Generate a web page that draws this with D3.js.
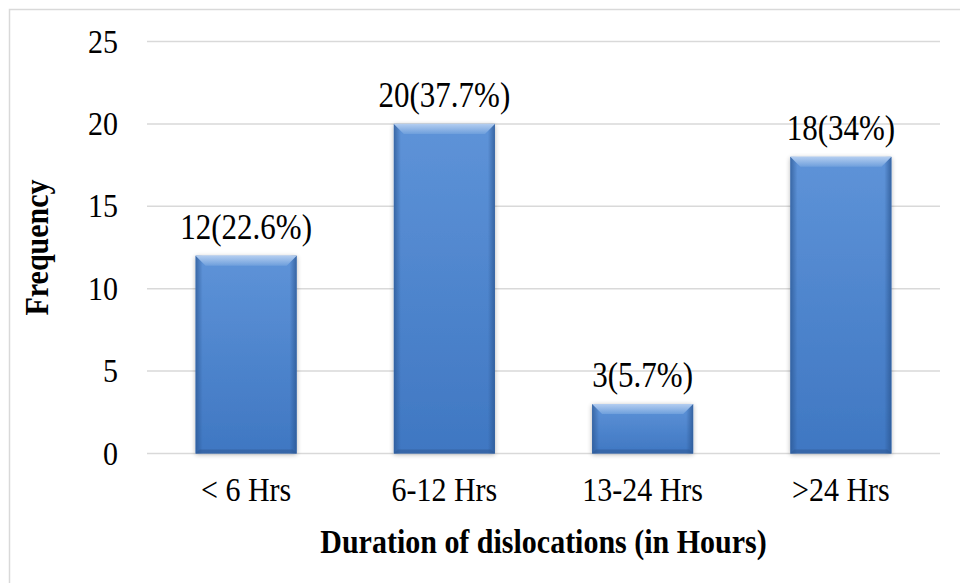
<!DOCTYPE html>
<html><head><meta charset="utf-8">
<script src="https://cdn.jsdelivr.net/npm/d3@7"></script>
<style>html,body{margin:0;padding:0;background:#fff;}svg{display:block;}</style>
</head><body>
<script>
const categories = ["< 6 Hrs", "6-12 Hrs", "13-24 Hrs", ">24 Hrs"];
const frequencies = [12, 20, 3, 18];
const barLabels = ["12(22.6%)", "20(37.7%)", "3(5.7%)", "18(34%)"];
const yTicks = [0, 5, 10, 15, 20, 25];
const xTitle = "Duration of dislocations (in Hours)";
const yTitle = "Frequency";

const W = 960, H = 583;
const plot = {left: 147, right: 940, top: 41.5, bottom: 453.5};
const font = "'Liberation Serif','Times New Roman',serif";
const kAxis = 1.1, kBar = 1.15, kTitle = 1.1;

const svg = d3.select("body").append("svg").attr("width", W).attr("height", H);

// outer frame
svg.append("rect").attr("x", 9.5).attr("y", 9.5).attr("width", 1000).attr("height", 1000)
  .attr("fill", "none").attr("stroke", "#d9d9d9").attr("stroke-width", 1.5);

const x = d3.scaleBand().domain(categories).range([plot.left, plot.right]).paddingInner(0.49).paddingOuter(0.245);
const y = d3.scaleLinear().domain([0, 25]).range([plot.bottom, plot.top]);

const defs = svg.append("defs");
const gBody = defs.append("linearGradient").attr("id", "body").attr("x1", 0).attr("y1", 0).attr("x2", 0).attr("y2", 1);
gBody.append("stop").attr("offset", 0).attr("stop-color", "#5e93d8");
gBody.append("stop").attr("offset", 1).attr("stop-color", "#3f77c2");
const gTop = defs.append("linearGradient").attr("id", "topb").attr("x1", 0).attr("y1", 0).attr("x2", 0).attr("y2", 1);
gTop.append("stop").attr("offset", 0).attr("stop-color", "#b3cdf0");
gTop.append("stop").attr("offset", 1).attr("stop-color", "#6e9fdc");
const gSide = defs.append("linearGradient").attr("id", "side").attr("x1", 0).attr("y1", 0).attr("x2", 1).attr("y2", 0);
gSide.append("stop").attr("offset", 0).attr("stop-color", "#2a5590").attr("stop-opacity", 0.7);
gSide.append("stop").attr("offset", 0.07).attr("stop-color", "#2a5590").attr("stop-opacity", 0);
gSide.append("stop").attr("offset", 0.93).attr("stop-color", "#2a5590").attr("stop-opacity", 0);
gSide.append("stop").attr("offset", 1).attr("stop-color", "#2a5590").attr("stop-opacity", 0.75);
const shadow = defs.append("filter").attr("id", "sh").attr("x", "-20%").attr("y", "-20%").attr("width", "140%").attr("height", "140%");
shadow.append("feGaussianBlur").attr("in", "SourceAlpha").attr("stdDeviation", 2.5).attr("result", "b");
shadow.append("feOffset").attr("in", "b").attr("dx", 0).attr("dy", 1).attr("result", "o");
shadow.append("feComponentTransfer").attr("in", "o").attr("result", "o2")
  .append("feFuncA").attr("type", "linear").attr("slope", 0.3);
const m = shadow.append("feMerge");
m.append("feMergeNode").attr("in", "o2");
m.append("feMergeNode").attr("in", "SourceGraphic");

// gridlines
svg.append("g").selectAll("line").data(yTicks).join("line")
  .attr("x1", plot.left).attr("x2", plot.right)
  .attr("y1", d => y(d)).attr("y2", d => y(d))
  .attr("stroke", "#d9d9d9").attr("stroke-width", 1.5);

// y axis labels
const yAxis = svg.append("g").attr("transform", `translate(${plot.left},0)`)
  .call(d3.axisLeft(y).tickValues(yTicks).tickSize(0).tickPadding(29));
yAxis.select(".domain").remove();
yAxis.selectAll("text").attr("font-family", font).attr("font-size", 30).attr("fill", "#000")
  .attr("dy", "0.32em").attr("transform", `scale(1,${kAxis})`);

// x axis labels
const xAxis = svg.append("g").attr("transform", `translate(0,${plot.bottom})`)
  .call(d3.axisBottom(x).tickSize(0).tickPadding(24 / kAxis));
xAxis.select(".domain").remove();
xAxis.selectAll("text").attr("font-family", font).attr("font-size", 30).attr("fill", "#000")
  .attr("dy", "0.71em").attr("transform", `scale(1,${kAxis})`);

// bars
const bars = svg.append("g").selectAll("g").data(categories).join("g");
bars.each(function(c, i) {
  const g = d3.select(this);
  const x0 = x(c), bw = x.bandwidth(), yt = y(frequencies[i]), yb = y(0), h = yb - yt;
  const bev = Math.min(10, h / 3);
  g.append("rect").attr("x", x0).attr("y", yt).attr("width", bw).attr("height", h)
    .attr("fill", "url(#body)").attr("filter", "url(#sh)");
  g.append("rect").attr("x", x0).attr("y", yt).attr("width", bw).attr("height", h)
    .attr("fill", "url(#side)");
  g.append("path").attr("d", `M${x0},${yt}L${x0 + bw},${yt}L${x0 + bw - bev},${yt + bev}L${x0 + bev},${yt + bev}Z`)
    .attr("fill", "url(#topb)");
  g.append("path").attr("d", `M${x0},${yb}L${x0 + bw},${yb}L${x0 + bw - 4},${yb - 4}L${x0 + 4},${yb - 4}Z`)
    .attr("fill", "#2f5a94").attr("opacity", 0.55);
  g.append("g").attr("transform", `translate(${x0 + bw / 2},${yt - 17}) scale(1,${kBar})`)
    .append("text").attr("text-anchor", "middle").attr("font-family", font).attr("font-size", 31).attr("fill", "#000")
    .text(barLabels[i]);
});

// titles
svg.append("g").attr("transform", `translate(${(plot.left + plot.right) / 2},553) scale(1,${kTitle})`)
  .append("text").attr("text-anchor", "middle").attr("font-family", font).attr("font-weight", "bold").attr("font-size", 30)
  .text(xTitle);
svg.append("g").attr("transform", `translate(48,${(plot.top + plot.bottom) / 2}) rotate(-90) scale(1,${kTitle})`)
  .append("text").attr("text-anchor", "middle").attr("font-family", font).attr("font-weight", "bold").attr("font-size", 30)
  .text(yTitle);
</script>
</body></html>
